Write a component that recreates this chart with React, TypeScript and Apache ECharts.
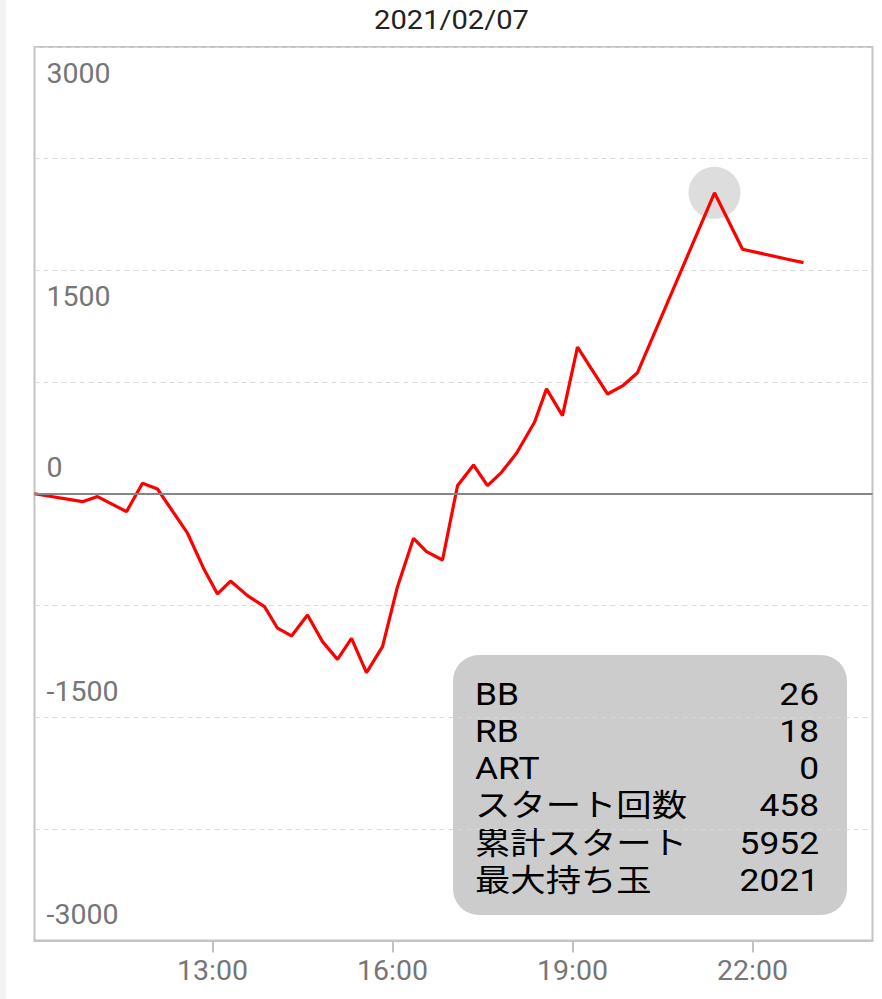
import React, { useEffect, useRef } from "react";
import * as echarts from "echarts";

const titleText = "2021/02/07";
const times = [
  "10:02", "10:50", "11:05", "11:34", "11:50", "12:05", "12:35", "12:51",
  "13:05", "13:18", "13:35", "13:52", "14:05", "14:19", "14:35", "14:50",
  "15:05", "15:19", "15:34", "15:50", "16:05", "16:21", "16:34", "16:50",
  "17:05", "17:21", "17:35", "17:49", "18:04", "18:22", "18:34", "18:50",
  "19:05", "19:35", "19:50", "20:05", "21:22", "21:50", "22:35", "22:51",
];
const values = [
  0, -53, -19, -120, 70, 32, -265, -500,
  -673, -586, -684, -758, -903, -955, -814, -993,
  -1112, -971, -1201, -1027, -624, -299, -389, -445,
  54, 193, 54, 144, 272, 480, 704, 525,
  984, 670, 724, 813, 2021, 1642, 1575, 1552,
];
const xTickLabels = ["13:00", "16:00", "19:00", "22:00"];
const xEnd = "24:00";
const yMin = -3000;
const yMax = 3000;
const yGridStep = 750;
const yLabelStep = 1500;
const statLabels = ["BB", "RB", "ART", "スタート回数", "累計スタート", "最大持ち玉"];
const statValues = [26, 18, 0, 458, 5952, 2021];

const toMin = (s: string) => {
  const [h, m] = s.split(":").map(Number);
  return h * 60 + m;
};

const FONT = 'Roboto, "Noto Sans CJK JP", sans-serif';

export default function App() {
  const ref = useRef<HTMLDivElement>(null);
  useEffect(() => {
    if (!ref.current) return;
    const chart = echarts.init(ref.current, undefined, { renderer: "svg" });
    const data = times.map((t, i) => [toMin(t), values[i]]);
    let maxIdx = 0;
    values.forEach((v, i) => {
      if (v > values[maxIdx]) maxIdx = i;
    });
    const tickVals = xTickLabels.map(toMin);
    const rowH = 37.2;
    const children: any[] = [
      {
        type: "rect",
        shape: { x: 453, y: 655, width: 394, height: 260, r: 26 },
        style: { fill: "#cccccc" },
      },
    ];
    statLabels.forEach((lab, i) => {
      children.push({
        type: "text",
        x: 475,
        y: 694 + i * rowH,
        scaleX: 1.14,
        style: {
          text: lab,
          fill: "#000",
          font: `31px ${FONT}`,
          align: "left",
          verticalAlign: "middle",
        },
      });
      children.push({
        type: "text",
        x: 819,
        y: 694 + i * rowH,
        scaleX: 1.14,
        style: {
          text: String(statValues[i]),
          fill: "#000",
          font: `31px ${FONT}`,
          align: "right",
          verticalAlign: "middle",
        },
      });
    });
    chart.setOption({
      animation: false,
      grid: {
        left: 34.5,
        right: 9.5,
        top: 47,
        bottom: 58.5,
        containLabel: false,
        outerBoundsMode: "none",
        show: true,
        borderColor: "#c4c4c4",
        borderWidth: 2,
        backgroundColor: "transparent",
      },
      xAxis: {
        type: "value",
        min: toMin(times[0]),
        max: toMin(xEnd),
        splitLine: { show: false },
        axisLine: { show: true, onZero: false, lineStyle: { color: "#c4c4c4", width: 2 } },
        axisTick: {
          show: true,
          customValues: tickVals,
          length: 12,
          lineStyle: { color: "#c2c2c2", width: 2 },
        },
        axisLabel: {
          customValues: tickVals,
          margin: 16,
          fontSize: 28.5,
          color: "#767676",
          fontFamily: FONT,
          formatter: (v: number) => {
            const h = Math.floor(v / 60);
            const m = Math.round(v % 60);
            return `${h}:${m < 10 ? "0" + m : m}`;
          },
        },
      },
      yAxis: {
        type: "value",
        min: yMin,
        max: yMax,
        interval: yGridStep,
        axisLine: { show: false },
        axisTick: { show: false },
        splitLine: { show: true, lineStyle: { color: "#d8d8d8", type: [5, 4], width: 1 } },
        axisLabel: {
          inside: true,
          margin: 12,
          fontSize: 28.5,
          color: "#767676",
          fontFamily: FONT,
          formatter: (v: number) => {
            if (v % yLabelStep !== 0) return "";
            return v > 0 ? `{d|${v}}` : `{u|${v}}`;
          },
          rich: {
            d: { padding: [52, 0, 0, 0], fontSize: 28.5, color: "#767676", fontFamily: FONT, lineHeight: 32 },
            u: { padding: [0, 0, 52, 0], fontSize: 28.5, color: "#767676", fontFamily: FONT, lineHeight: 32 },
          },
        },
      },
      series: [
        {
          type: "scatter",
          data: [data[maxIdx]],
          symbol: "circle",
          symbolSize: 52,
          itemStyle: { color: "#d4d4d4" },
          silent: true,
          z: 1,
        },
        {
          type: "line",
          data,
          showSymbol: false,
          symbol: "none",
          lineStyle: { color: "#ff0000", width: 3.2 },
          z: 3,
          markLine: {
            silent: true,
            symbol: "none",
            label: { show: false },
            lineStyle: { color: "#858585", width: 2, type: "solid" },
            data: [{ yAxis: 0 }],
          },
        },
      ],
      graphic: [
        {
          type: "text",
          x: 451.5,
          y: 20,
          scaleX: 1.12,
          style: {
            text: titleText,
            fill: "#222",
            font: `26px ${FONT}`,
            align: "center",
            verticalAlign: "middle",
          },
        },
        { type: "group", children, z: 10 },
      ],
    });
    return () => chart.dispose();
  }, []);
  return (
    <div style={{ position: "fixed", left: 0, top: 0, width: 882, height: 999, background: "#fff" }}>
      <div style={{ position: "absolute", left: 0, top: 0, width: 6, height: 999, background: "#f3f3f3" }} />
      <div ref={ref} style={{ position: "absolute", left: 0, top: 0, width: 882, height: 999 }} />
    </div>
  );
}
